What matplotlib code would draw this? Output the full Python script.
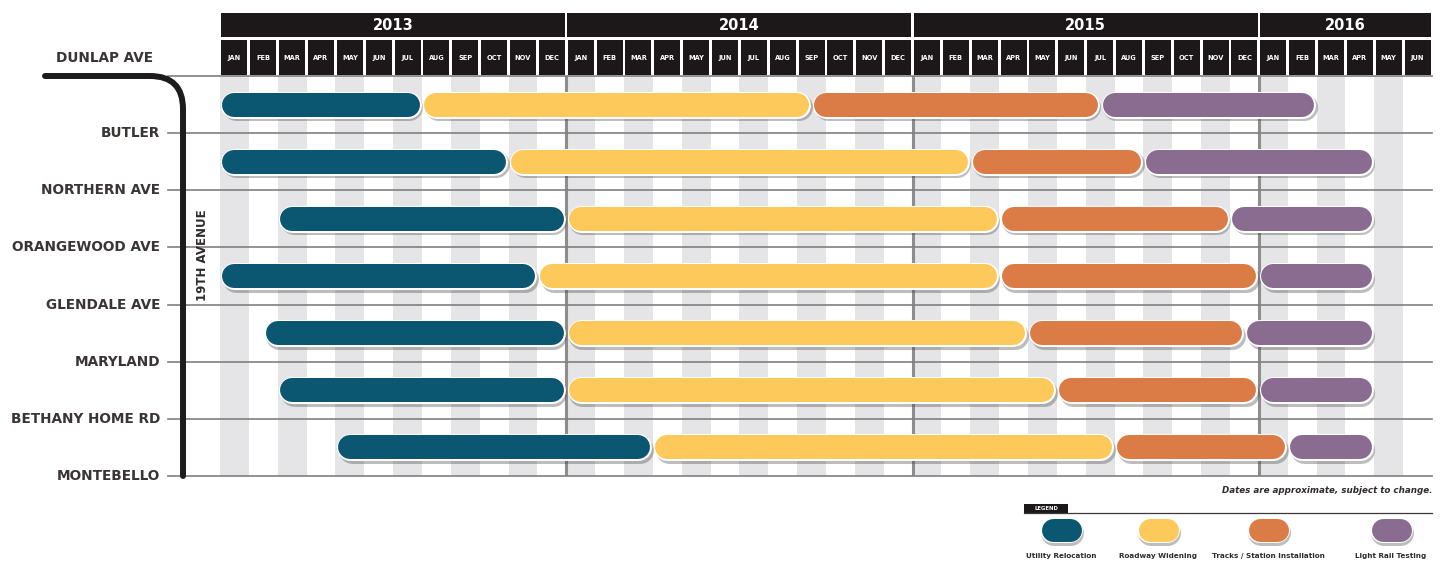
import numpy as np
import matplotlib
matplotlib.use("Agg")
import matplotlib.pyplot as plt
import matplotlib.patheffects as pe
from matplotlib.patches import Rectangle
from matplotlib.path import Path
from matplotlib.patches import PathPatch

# stations along 19th Avenue, north to south
stations = ["DUNLAP AVE", "BUTLER", "NORTHERN AVE", "ORANGEWOOD AVE",
            "GLENDALE AVE", "MARYLAND", "BETHANY HOME RD", "MONTEBELLO"]

years = ["2013", "2014", "2015", "2016"]
year_months = [12, 12, 12, 6]
month_names = ["JAN", "FEB", "MAR", "APR", "MAY", "JUN",
               "JUL", "AUG", "SEP", "OCT", "NOV", "DEC"]

# phase boundaries per segment, in months since Jan 2013
utility_start = [0, 0, 2, 0, 1.5, 2, 4]
utility_end = [7, 10, 12, 11, 12, 12, 15]
widening_end = [20.5, 26, 27, 27, 28, 29, 31]
tracks_end = [30.5, 32, 35, 36, 35.5, 36, 37]
testing_end = [38, 40, 40, 40, 40, 40, 40]

phases = ["Utility Relocation", "Roadway Widening",
          "Tracks / Station Installation", "Light Rail Testing"]
colors = ["#0b5671", "#fdc95a", "#db7b45", "#8a6c90"]

W, H = 1447, 561
fig = plt.figure(figsize=(W / 100, H / 100), dpi=100)
fig.patch.set_facecolor("white")

n_months = sum(year_months)
x0, x1 = 220, 1432
y_top, y_bot = 76, 476
ppm = (x1 - x0) / n_months

ax = fig.add_axes([x0 / W, (H - y_bot) / H, (x1 - x0) / W, (y_bot - y_top) / H])
ax.set_xlim(0, n_months)
ax.set_ylim(len(stations) - 1, 0)
ax.axis("off")

# alternating month stripes
for m in range(0, n_months, 2):
    ax.axvspan(m, m + 1, color="#e5e5e8", lw=0, zorder=0)
for m in np.cumsum(year_months)[:-1]:
    ax.axvline(m, color="#8d8d8d", lw=2.2, zorder=1)
for i in range(len(stations)):
    ax.axhline(i, xmin=-52 / (x1 - x0), xmax=1, color="#808080", lw=1.2,
               zorder=1, clip_on=False)

# station labels
for i, name in enumerate(stations):
    if i == 0:
        ax.text(-67 / ppm, -18 / 57.14, name, ha="right", va="center",
                fontsize=9.8, fontweight="bold", color="#3a3435")
    else:
        ax.text(-60 / ppm, i, name, ha="right", va="center",
                fontsize=9.8, fontweight="bold", color="#3a3435")

# phase bars
lw_c = 24 * 0.72
lw_w = 27 * 0.72
r = 14.5 / ppm
effects = [pe.SimpleLineShadow(offset=(1.2, -1.8), shadow_color="#444444",
                               alpha=0.35, linewidth=lw_w),
           pe.Stroke(linewidth=lw_w, foreground="white"), pe.Normal()]
bounds = np.array([utility_start, utility_end, widening_end, tracks_end, testing_end])
for row in range(bounds.shape[1]):
    y = row + 0.5
    for k in range(4):
        s, e = bounds[k, row], bounds[k + 1, row]
        ax.plot([s + r, e - r], [y, y], color=colors[k], lw=lw_c,
                solid_capstyle="round", path_effects=effects, zorder=3)

# header
hax = fig.add_axes([x0 / W, (H - 75) / H, (x1 - x0) / W, 62 / H])
hax.set_xlim(0, n_months)
hax.set_ylim(0, 1)
hax.axis("off")
start = 0
for yr, nm in zip(years, year_months):
    hax.add_patch(Rectangle((start + 0.04, 38 / 62), nm - 0.08, 24 / 62,
                            color="#1c1819", lw=0))
    hax.text(start + nm / 2, 50 / 62, yr, ha="center", va="center",
             color="white", fontsize=10.5, fontweight="bold")
    for j in range(nm):
        m = start + j
        hax.add_patch(Rectangle((m + 0.05, 0), 0.9, 35 / 62,
                                color="#1c1819", lw=0))
        hax.text(m + 0.5, 17 / 62, month_names[j], ha="center", va="center",
                 color="white", fontsize=4.8, fontweight="bold")
    start += nm

# overlay in pixel units for the street line and legend
ov = fig.add_axes([0, 0, 1, 1], zorder=5)
ov.set_xlim(0, W)
ov.set_ylim(H, 0)
ov.axis("off")
ov.patch.set_alpha(0)
verts = [(45, 76), (150, 76), (183, 76), (183, 109), (183, 476)]
codes = [Path.MOVETO, Path.LINETO, Path.CURVE3, Path.CURVE3, Path.LINETO]
ov.add_patch(PathPatch(Path(verts, codes), fill=False, lw=4.3,
                       edgecolor="#1e1b1c", capstyle="round"))
ov.text(203, 255, "19TH AVENUE", rotation=90, ha="center", va="center",
        fontsize=8.5, fontweight="bold", color="#2f2b2c")

ov.text(1432, 490, "Dates are approximate, subject to change.", ha="right",
        va="center", fontsize=6.3, fontweight="bold", style="italic",
        color="#2f2b2c")

# legend
ov.add_patch(Rectangle((1024, 504), 44, 8.5, color="#1c1819", lw=0))
ov.text(1046, 508.3, "LEGEND", ha="center", va="center", color="white",
        fontsize=3.8, fontweight="bold")
ov.plot([1024, 1432], [513, 513], color="#3a3a3a", lw=0.9)
leg_x = [1061, 1158, 1268, 1391]
leg_eff = [pe.SimpleLineShadow(offset=(1.2, -1.8), shadow_color="#444444",
                               alpha=0.35, linewidth=26 * 0.72),
           pe.Stroke(linewidth=26 * 0.72, foreground="white"), pe.Normal()]
for cx, c, name in zip(leg_x, colors, phases):
    ov.plot([cx - 8.5, cx + 8.5], [530, 530], color=c, lw=23 * 0.72,
            solid_capstyle="round", path_effects=leg_eff)
    ov.text(cx, 556, name, ha="center", va="center", fontsize=5.2,
            fontweight="bold", color="#2f2b2c")

fig.savefig("out.png", dpi=100)
